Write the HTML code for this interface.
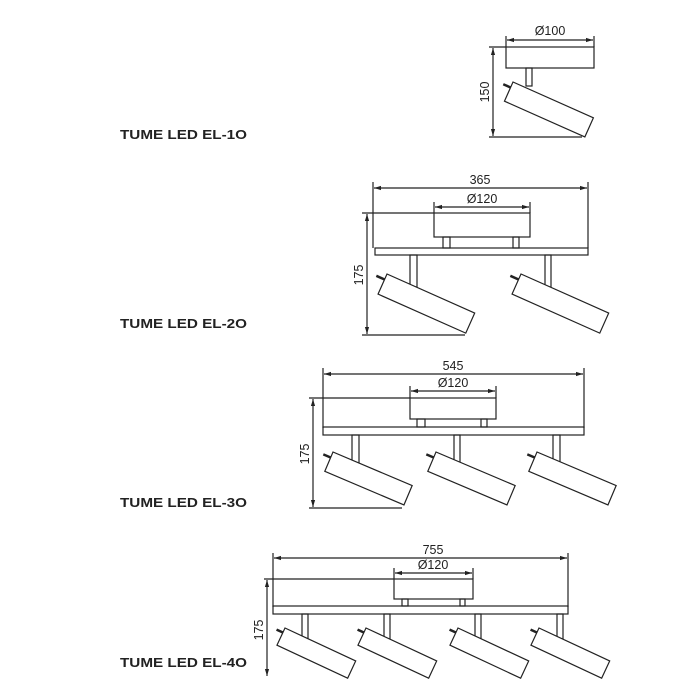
<!DOCTYPE html>
<html><head><meta charset="utf-8"><style>
html,body{margin:0;padding:0;background:#fff;}
svg{display:block;}
text{font-family:"Liberation Sans",sans-serif;fill:#222;}
.l{font-weight:bold;font-size:12.5px;}
.d{font-size:12.5px;}
</style></head><body>
<svg width="700" height="700" viewBox="0 0 700 700" xmlns="http://www.w3.org/2000/svg">
<defs>
<marker id="a" viewBox="0 0 10 10" refX="10" refY="5" markerWidth="6" markerHeight="6" orient="auto-start-reverse"><path d="M0,2 L10,5 L0,8 z" fill="#222"/></marker>
</defs>
<g stroke="#222" stroke-width="1.2" fill="none">
<line x1="506" y1="36" x2="506" y2="47"/><line x1="594" y1="36" x2="594" y2="47"/>
<line x1="507" y1="40" x2="593" y2="40" marker-start="url(#a)" marker-end="url(#a)"/>
<rect x="506" y="47" width="88" height="21" fill="#fff"/>
<rect x="526" y="68" width="6" height="18"/>
<line x1="489" y1="47" x2="506" y2="47"/><line x1="489" y1="137" x2="582" y2="137"/>
<line x1="493" y1="48" x2="493" y2="136" marker-start="url(#a)" marker-end="url(#a)"/>
<g transform="translate(513,82) rotate(24)"><rect x="0" y="0" width="88" height="21" fill="#fff"/><line x1="0" y1="6" x2="-8" y2="6" stroke-width="2.5"/></g>

<line x1="373" y1="182" x2="373" y2="248"/><line x1="588" y1="182" x2="588" y2="248"/>
<line x1="374" y1="188" x2="587" y2="188" marker-start="url(#a)" marker-end="url(#a)"/>
<line x1="434" y1="202" x2="434" y2="213"/><line x1="530" y1="202" x2="530" y2="213"/>
<line x1="435" y1="207" x2="529" y2="207" marker-start="url(#a)" marker-end="url(#a)"/>
<line x1="362" y1="213" x2="434" y2="213"/>
<rect x="434" y="213" width="96" height="24"/>
<rect x="443" y="237" width="7" height="11"/><rect x="513" y="237" width="6" height="11"/>
<rect x="375" y="248" width="213" height="7"/>
<rect x="410" y="255" width="7" height="32"/><rect x="545" y="255" width="6" height="32"/>
<line x1="362" y1="335" x2="465" y2="335"/>
<line x1="367" y1="214" x2="367" y2="334" marker-start="url(#a)" marker-end="url(#a)"/>
<g transform="translate(387,274) rotate(24)"><rect x="0" y="0" width="96" height="22" fill="#fff"/><line x1="0" y1="6" x2="-9" y2="6" stroke-width="2.5"/></g>
<g transform="translate(521,274) rotate(24)"><rect x="0" y="0" width="96" height="22" fill="#fff"/><line x1="0" y1="6" x2="-9" y2="6" stroke-width="2.5"/></g>

<line x1="323" y1="368" x2="323" y2="428"/><line x1="584" y1="368" x2="584" y2="428"/>
<line x1="324" y1="374" x2="583" y2="374" marker-start="url(#a)" marker-end="url(#a)"/>
<line x1="410" y1="386" x2="410" y2="398"/><line x1="496" y1="386" x2="496" y2="398"/>
<line x1="411" y1="391" x2="495" y2="391" marker-start="url(#a)" marker-end="url(#a)"/>
<line x1="309" y1="398" x2="410" y2="398"/>
<rect x="410" y="398" width="86" height="21"/>
<rect x="417" y="419" width="8" height="8"/><rect x="481" y="419" width="6" height="8"/>
<rect x="323" y="427" width="261" height="8"/>
<rect x="352" y="435" width="7" height="28"/><rect x="454" y="435" width="6" height="28"/><rect x="553" y="435" width="7" height="28"/>
<line x1="309" y1="508" x2="402" y2="508"/>
<line x1="313" y1="399" x2="313" y2="507" marker-start="url(#a)" marker-end="url(#a)"/>
<g transform="translate(333,452) rotate(23)"><rect x="0" y="0" width="86" height="21" fill="#fff"/><line x1="0" y1="6" x2="-8" y2="6" stroke-width="2.5"/></g>
<g transform="translate(436,452) rotate(23)"><rect x="0" y="0" width="86" height="21" fill="#fff"/><line x1="0" y1="6" x2="-8" y2="6" stroke-width="2.5"/></g>
<g transform="translate(537,452) rotate(23)"><rect x="0" y="0" width="86" height="21" fill="#fff"/><line x1="0" y1="6" x2="-8" y2="6" stroke-width="2.5"/></g>

<line x1="273" y1="553" x2="273" y2="607"/><line x1="568" y1="553" x2="568" y2="607"/>
<line x1="274" y1="558" x2="567" y2="558" marker-start="url(#a)" marker-end="url(#a)"/>
<line x1="394" y1="568" x2="394" y2="579"/><line x1="473" y1="568" x2="473" y2="579"/>
<line x1="395" y1="573" x2="472" y2="573" marker-start="url(#a)" marker-end="url(#a)"/>
<line x1="264" y1="579" x2="394" y2="579"/>
<rect x="394" y="579" width="79" height="20"/>
<rect x="402" y="599" width="6" height="7"/><rect x="460" y="599" width="5" height="7"/>
<rect x="273" y="606" width="295" height="8"/>
<rect x="302" y="614" width="6" height="25"/><rect x="384" y="614" width="6" height="25"/><rect x="475" y="614" width="6" height="25"/><rect x="557" y="614" width="6" height="25"/>
<line x1="267" y1="580" x2="267" y2="676" marker-start="url(#a)" marker-end="url(#a)"/>
<g transform="translate(285,628) rotate(25)"><rect x="0" y="0" width="78" height="19" fill="#fff"/><line x1="0" y1="5" x2="-7" y2="5" stroke-width="2.5"/></g>
<g transform="translate(366,628) rotate(25)"><rect x="0" y="0" width="78" height="19" fill="#fff"/><line x1="0" y1="5" x2="-7" y2="5" stroke-width="2.5"/></g>
<g transform="translate(458,628) rotate(25)"><rect x="0" y="0" width="78" height="19" fill="#fff"/><line x1="0" y1="5" x2="-7" y2="5" stroke-width="2.5"/></g>
<g transform="translate(539,628) rotate(25)"><rect x="0" y="0" width="78" height="19" fill="#fff"/><line x1="0" y1="5" x2="-7" y2="5" stroke-width="2.5"/></g>
</g>

<text class="d" x="550" y="35" text-anchor="middle">Ø100</text>
<text class="d" transform="translate(489,92) rotate(-90)" text-anchor="middle">150</text>
<text class="d" x="480" y="184" text-anchor="middle">365</text>
<text class="d" x="482" y="203" text-anchor="middle">Ø120</text>
<text class="d" transform="translate(363,275) rotate(-90)" text-anchor="middle">175</text>
<text class="d" x="453" y="370" text-anchor="middle">545</text>
<text class="d" x="453" y="387" text-anchor="middle">Ø120</text>
<text class="d" transform="translate(309,454) rotate(-90)" text-anchor="middle">175</text>
<text class="d" x="433" y="554" text-anchor="middle">755</text>
<text class="d" x="433" y="569" text-anchor="middle">Ø120</text>
<text class="d" transform="translate(263,630) rotate(-90)" text-anchor="middle">175</text>

<text class="l" x="120" y="139" textLength="127" lengthAdjust="spacingAndGlyphs">TUME LED EL-1O</text>
<text class="l" x="120" y="328" textLength="127" lengthAdjust="spacingAndGlyphs">TUME LED EL-2O</text>
<text class="l" x="120" y="507" textLength="127" lengthAdjust="spacingAndGlyphs">TUME LED EL-3O</text>
<text class="l" x="120" y="667" textLength="127" lengthAdjust="spacingAndGlyphs">TUME LED EL-4O</text>
</svg>
</body></html>
